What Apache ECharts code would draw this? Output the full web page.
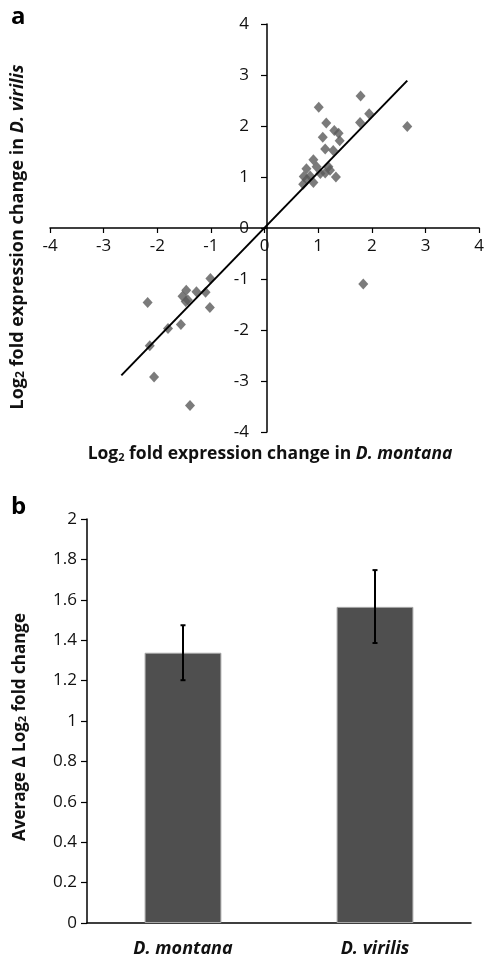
<!DOCTYPE html>
<html>
<head>
<meta charset="utf-8">
<script src="https://cdn.jsdelivr.net/npm/echarts@6/dist/echarts.min.js"></script>
<style>
html,body{margin:0;padding:0;background:#fff;}
#chart{width:487px;height:958px;}
</style>
</head>
<body>
<div id="chart"></div>
<script>
// ---- Panel a: scatter (x = D. montana, y = D. virilis) ----
const scatterX = [1.01, 1.79, 1.95, 1.78, 2.66, 1.15, 1.085, 1.30, 1.38, 1.40, 1.13, 1.28, 0.91, 0.78, 0.97, 1.19, 1.13, 1.04, 1.22, 1.33, 0.73, 0.85, 0.91, 0.72, 0.79, 1.84,
                  -1.01, -2.18, -1.46, -1.53, -1.43, -1.47, -1.27, -1.10, -1.02, -1.80, -1.56, -2.14, -2.06, -1.39];
const scatterY = [2.37, 2.59, 2.24, 2.07, 1.99, 2.06, 1.78, 1.91, 1.86, 1.71, 1.55, 1.52, 1.34, 1.16, 1.20, 1.20, 1.08, 1.07, 1.13, 1.00, 1.01, 1.02, 0.89, 0.86, 0.95, -1.10,
                  -0.99, -1.46, -1.22, -1.34, -1.41, -1.44, -1.25, -1.26, -1.56, -1.97, -1.89, -2.31, -2.92, -3.48];
const trendX = [-2.67, 2.66];
const trendY = [-2.89, 2.89];
const scatterTicks = [-4, -3, -2, -1, 0, 1, 2, 3, 4];

// ---- Panel b: bar chart ----
const barCategories = ['D. montana', 'D. virilis'];
const barValues = [1.338, 1.565];
const errLow = [1.202, 1.386];
const errHigh = [1.474, 1.747];
const barTicks = [0, 0.2, 0.4, 0.6, 0.8, 1, 1.2, 1.4, 1.6, 1.8, 2];

const FONT = 'Open Sans';
const chart = echarts.init(document.getElementById('chart'), null, {renderer: 'canvas'});

function subRich(size) {
  return {
    sub: {fontSize: Math.round(size * 0.65), fontWeight: 'bold', fontFamily: FONT, verticalAlign: 'bottom', lineHeight: 12, padding: [7, 0, 0, 0]},
    it: {fontSize: size, fontWeight: 'bold', fontStyle: 'italic', fontFamily: FONT}
  };
}

const G1 = {left: 50, top: 24, width: 434, height: 408};
const G2 = {left: 87, top: 519, width: 384, height: 406};

const option = {
  animation: false,
  backgroundColor: '#fff',
  textStyle: {fontFamily: FONT},
  grid: [G1, G2],
  xAxis: [
    {
      type: 'value', gridIndex: 0, min: scatterTicks[0], max: scatterTicks[scatterTicks.length - 1], interval: 1,
      offset: -G1.height / 2,
      axisLine: {onZero: false, lineStyle: {color: '#000', width: 1.5}},
      axisTick: {length: 5, lineStyle: {color: '#000', width: 1.2}},
      axisLabel: {color: '#111', fontSize: 17, fontFamily: FONT, margin: 10, showMinLabel: true, showMaxLabel: true},
      splitLine: {show: false}
    },
    {
      type: 'category', gridIndex: 1, data: barCategories,
      axisLine: {lineStyle: {color: '#000', width: 1.5}},
      axisTick: {length: 6, alignWithLabel: false, lineStyle: {color: '#000', width: 1.2}},
      axisLabel: {color: '#111', fontSize: 18, fontWeight: 'bold', fontStyle: 'italic', fontFamily: FONT, margin: 17}
    }
  ],
  yAxis: [
    {
      type: 'value', gridIndex: 0, min: scatterTicks[0], max: scatterTicks[scatterTicks.length - 1], interval: 1,
      offset: -G1.width / 2,
      axisLine: {onZero: false, lineStyle: {color: '#000', width: 1.5}},
      axisTick: {length: 6, lineStyle: {color: '#000', width: 1.2}},
      axisLabel: {color: '#111', fontSize: 17, fontFamily: FONT, margin: 18},
      splitLine: {show: false}
    },
    {
      type: 'value', gridIndex: 1, min: barTicks[0], max: barTicks[barTicks.length - 1], interval: 0.2,
      axisLine: {show: true, lineStyle: {color: '#000', width: 1.5}},
      axisTick: {show: true, length: 6, lineStyle: {color: '#000', width: 1.2}},
      axisLabel: {color: '#111', fontSize: 17, fontFamily: FONT, margin: 10},
      splitLine: {show: false}
    }
  ],
  series: [
    {
      type: 'line', xAxisIndex: 0, yAxisIndex: 0,
      data: trendX.map((x, i) => [x, trendY[i]]),
      symbol: 'none', lineStyle: {color: '#000', width: 2}, z: 3
    },
    {
      type: 'scatter', xAxisIndex: 0, yAxisIndex: 0,
      data: scatterX.map((x, i) => [x, scatterY[i]]),
      symbol: 'diamond', symbolSize: [10, 11],
      itemStyle: {color: '#5a5a5a'}, z: 2
    },
    {
      type: 'bar', xAxisIndex: 1, yAxisIndex: 1,
      data: barValues, barWidth: '40%',
      itemStyle: {color: '#4f4f4f', borderColor: '#a8a8a8', borderWidth: 1}
    },
    {
      type: 'custom', xAxisIndex: 1, yAxisIndex: 1,
      data: barCategories.map((c, i) => [i, errLow[i], errHigh[i]]),
      renderItem: function (params, api) {
        const lo = api.coord([api.value(0), api.value(1)]);
        const hi = api.coord([api.value(0), api.value(2)]);
        const w = 2.5;
        return {
          type: 'group',
          children: [
            {type: 'line', shape: {x1: hi[0], y1: hi[1], x2: lo[0], y2: lo[1]}, style: {stroke: '#000', lineWidth: 2}},
            {type: 'line', shape: {x1: hi[0] - w, y1: hi[1], x2: hi[0] + w, y2: hi[1]}, style: {stroke: '#000', lineWidth: 2}},
            {type: 'line', shape: {x1: lo[0] - w, y1: lo[1], x2: lo[0] + w, y2: lo[1]}, style: {stroke: '#000', lineWidth: 2}}
          ]
        };
      },
      z: 5
    }
  ],
  graphic: [
    {type: 'text', left: 11, top: 5, style: {text: 'a', font: 'bold 24px ' + FONT, fill: '#000'}},
    {type: 'text', left: 11, top: 495, style: {text: 'b', font: 'bold 24px ' + FONT, fill: '#000'}},
    {
      type: 'text', x: 18, y: 237, rotation: Math.PI / 2,
      style: {
        text: 'Log{sub|2} fold expression change in {it|D. virilis}',
        fontSize: 18, fontWeight: 'bold', fontFamily: FONT, fill: '#111',
        align: 'center', verticalAlign: 'middle', rich: subRich(18)
      }
    },
    {
      type: 'text', x: 270, y: 454,
      style: {
        text: 'Log{sub|2} fold expression change in {it|D. montana}',
        fontSize: 17.5, fontWeight: 'bold', fontFamily: FONT, fill: '#111',
        align: 'center', verticalAlign: 'middle', rich: subRich(17.5)
      }
    },
    {
      type: 'text', x: 20, y: 727, rotation: Math.PI / 2,
      style: {
        text: 'Average Δ Log{sub|2} fold change',
        fontSize: 17, fontWeight: 'bold', fontFamily: FONT, fill: '#111',
        align: 'center', verticalAlign: 'middle', rich: subRich(17)
      }
    }
  ]
};
chart.setOption(option);
</script>
</body>
</html>
